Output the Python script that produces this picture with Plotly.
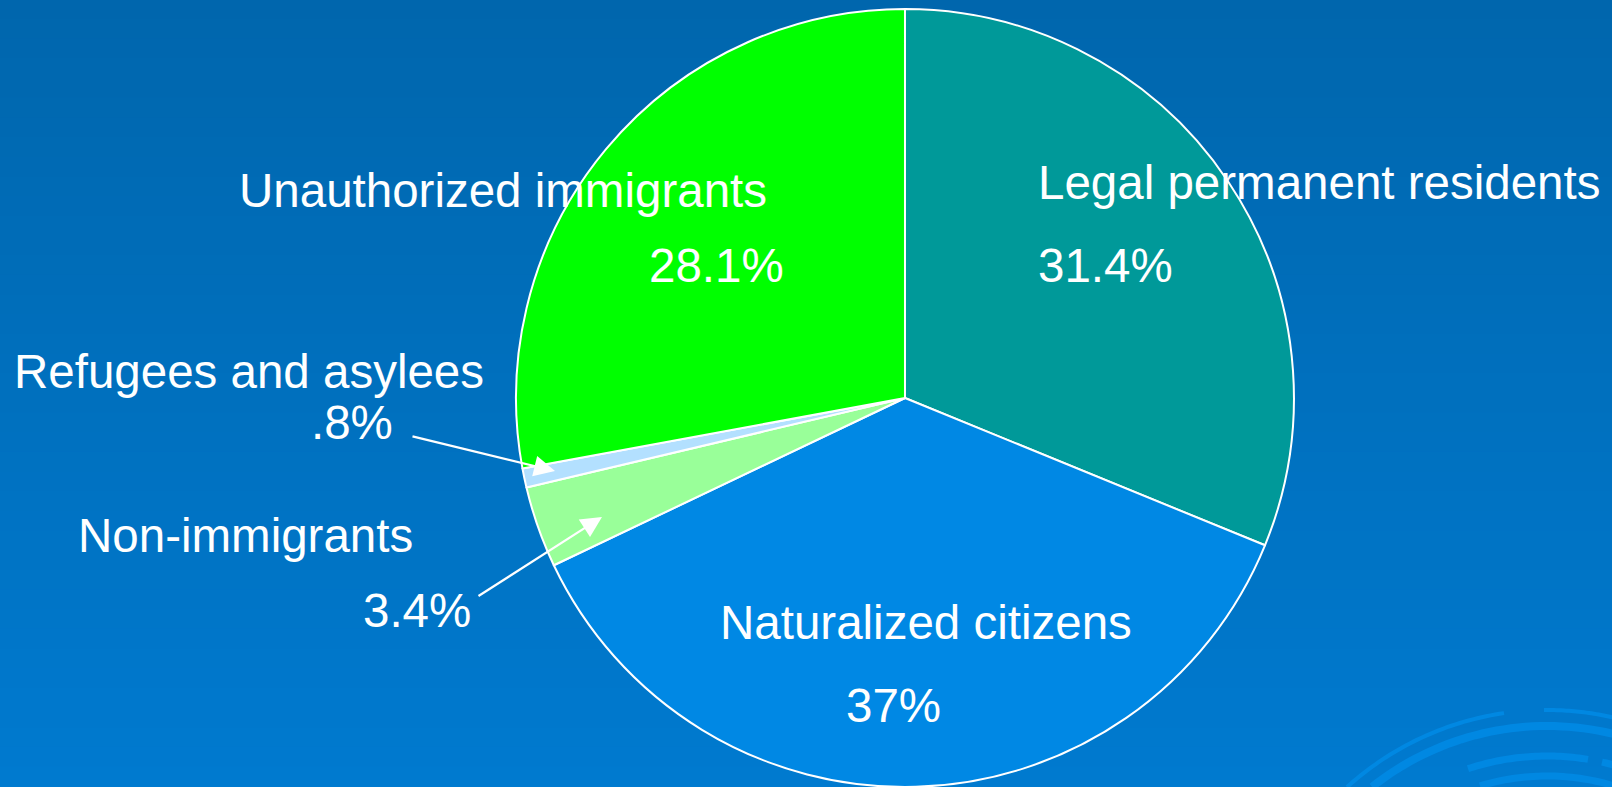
import numpy as np
import plotly.graph_objects as go

# Data
categories = ["Legal permanent residents", "Naturalized citizens", "Non-immigrants",
              "Refugees and asylees", "Unauthorized immigrants"]
shares = [31.4, 37.0, 3.4, 0.8, 28.1]
share_labels = ["31.4%", "37%", "3.4%", ".8%", "28.1%"]
slice_colors = ["#009999", "#0088E4", "#99FF99", "#B3E0FF", "#00FF00"]

W, H = 1612, 787

fig = go.Figure()
fig.add_trace(go.Pie(
    labels=categories, values=shares, sort=False, direction="clockwise", rotation=0,
    marker=dict(colors=slice_colors, line=dict(color="white", width=2)),
    textinfo="none", hoverinfo="label+percent", showlegend=False,
    domain=dict(x=[0.3201, 0.8027], y=[0.0, 0.9886]),
))

def px(x, y):
    return x / W, 1 - y / H

font = dict(family="Liberation Sans, Arial, sans-serif", size=47.5, color="white")
# label positions (pixel centres)
label_pos = {
    "Legal permanent residents": ((1036, 182), "left", (1036, 265), "left"),
    "Naturalized citizens": ((926, 622), "center", (893, 705), "center"),
    "Non-immigrants": ((76, 535), "left", (473, 610), "right"),
    "Refugees and asylees": ((12, 372), "left", (395, 422), "right"),
    "Unauthorized immigrants": ((769, 190), "right", (786, 265), "right"),
}
annotations = []
for cat, lab in zip(categories, share_labels):
    (nx, ny), na, (vx, vy), va = label_pos[cat]
    x, y = px(nx, ny)
    annotations.append(dict(text=cat, x=x, y=y, xref="paper", yref="paper",
                            xanchor=na, yanchor="middle", showarrow=False, font=font))
    x, y = px(vx, vy)
    annotations.append(dict(text=lab, x=x, y=y, xref="paper", yref="paper",
                            xanchor=va, yanchor="middle", showarrow=False, font=font))

# arrows for small slices
for (tx, ty), (hx, hy) in [((411, 436), (555, 471)), ((477, 597), (602, 517))]:
    x, y = px(hx, hy)
    annotations.append(dict(text="", x=x, y=y, xref="paper", yref="paper",
                            ax=tx - hx, ay=ty - hy, showarrow=True,
                            arrowhead=2, arrowsize=1.9, arrowwidth=2.2, arrowcolor="white"))

# background gradient bands
shapes = []
n = 40
c0 = (0x00, 0x66, 0xAD)
c1 = (0x00, 0x7A, 0xCF)
for i in range(n):
    t = i / (n - 1)
    c = tuple(int(round(a + (b - a) * t)) for a, b in zip(c0, c1))
    shapes.append(dict(type="rect", xref="paper", yref="paper", x0=0, x1=1,
                       y0=1 - (i + 1) / n, y1=1 - i / n + 0.001, layer="below",
                       line=dict(width=0), fillcolor="rgb(%d,%d,%d)" % c))

# decorative swirl (bottom right)
cx, cy = 1547, 1008
arcs = [  # radius, width, list of (x_start, x_end) segments
    (298, 4, [(1347, 1504), (1544, 1640)]),
    (282, 8, [(1372, 1640)]),
    (252, 7, [(1468, 1588), (1602, 1640)]),
    (232, 7, [(1437, 1452), (1480, 1640)]),
]
for r, w, segs in arcs:
    for xs, xe in segs:
        xs_ = np.clip(np.array([xs, xe]) - cx, -r, r)
        a0, a1 = np.arcsin(xs_ / r)
        ang = np.linspace(a0, a1, 40)
        xx = cx + r * np.sin(ang)
        yy = cy - r * np.cos(ang)
        pts = [px(a, b) for a, b in zip(xx, yy)]
        path = "M " + " L ".join("%.5f,%.5f" % p for p in pts)
        shapes.append(dict(type="path", path=path, xref="paper", yref="paper",
                           layer="below", line=dict(color="rgb(0,136,226)", width=w)))

fig.update_layout(
    width=W, height=H, margin=dict(l=0, r=0, t=0, b=0),
    paper_bgcolor="#0070BE", plot_bgcolor="rgba(0,0,0,0)",
    annotations=annotations, shapes=shapes,
)
fig.write_html("out.html")
